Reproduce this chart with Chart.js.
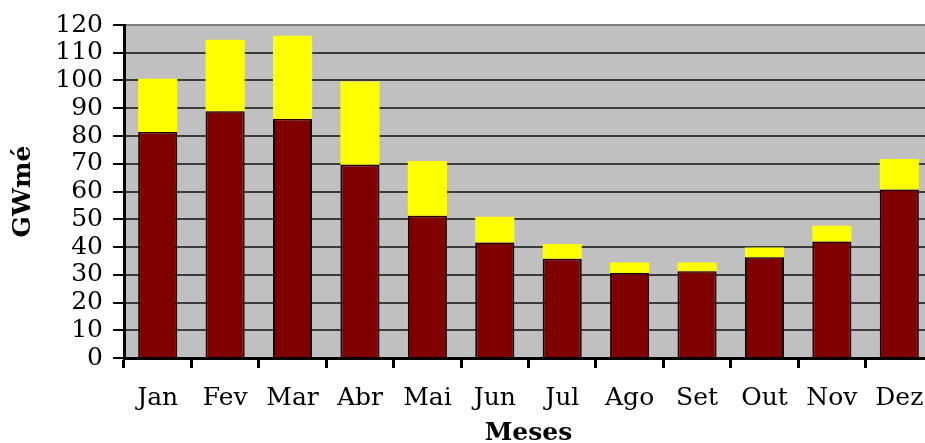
<!DOCTYPE html>
<html>
<head>
<meta charset="utf-8">
<script src="https://cdn.jsdelivr.net/npm/chart.js@4"></script>
<style>
  html, body { margin: 0; padding: 0; background: #fff; overflow: hidden; }
</style>
</head>
<body>
<canvas id="myChart" width="940" height="443"></canvas>
<script>
const months = ['Jan', 'Fev', 'Mar', 'Abr', 'Mai', 'Jun', 'Jul', 'Ago', 'Set', 'Out', 'Nov', 'Dez']

// lower (dark red) part of each bar
const baseValues = [81.4, 88.9, 86.1, 69.6, 51.3, 41.6, 35.8, 30.6, 31.3, 36.3, 42.0, 60.7]
// upper (yellow) part stacked on top
const extraValues = [19.2, 25.8, 30.0, 30.0, 19.7, 9.3, 5.3, 3.8, 3.1, 3.5, 5.7, 11.0]

const yMin = 0
const yMax = 120
const yStep = 10

const serif = 'DejaVu Serif'

const ctx = document.getElementById('myChart').getContext('2d')

// paint the gray plot background
const plotBackground = {
    id: 'plotBackground',
    beforeDraw(chart) {
        const { ctx, chartArea } = chart
        ctx.save()
        ctx.fillStyle = '#c0c0c0'
        ctx.fillRect(chartArea.left, chartArea.top, chartArea.right - chartArea.left, chartArea.bottom - chartArea.top)
        ctx.restore()
    }
}

const chart = new Chart(ctx, {
    type: 'bar',
    data: {
        labels: months,
        datasets: [
            {
                label: 'base',
                data: baseValues,
                backgroundColor: '#800000',
                borderColor: '#1a0000',
                borderWidth: { top: 1.5, left: 2, right: 2, bottom: 0 },
                borderSkipped: false
            },
            {
                label: 'extra',
                data: extraValues,
                backgroundColor: '#ffff00',
                borderWidth: 0
            }
        ]
    },
    options: {
        responsive: false,
        animation: false,
        devicePixelRatio: 1,
        layout: { padding: { top: 23, right: 7, left: 0, bottom: 0 } },
        plugins: {
            legend: { display: false },
            tooltip: { enabled: false }
        },
        datasets: {
            bar: { categoryPercentage: 1.0, barPercentage: 0.58 }
        },
        scales: {
            x: {
                stacked: true,
                offset: true,
                grid: {
                    offset: true,
                    drawOnChartArea: false,
                    drawTicks: true,
                    tickLength: 10,
                    tickWidth: 3,
                    tickColor: '#000'
                },
                border: { color: '#000', width: 3 },
                ticks: {
                    color: '#000',
                    font: { family: serif, size: 25 },
                    padding: 15,
                    maxRotation: 0,
                    autoSkip: false
                },
                title: {
                    display: true,
                    text: 'Meses',
                    color: '#000',
                    font: { family: serif, size: 25, weight: 'bold', lineHeight: 0.75 },
                    padding: 0
                },
                afterFit(scale) { scale.height = 85 }
            },
            y: {
                stacked: true,
                min: yMin,
                max: yMax,
                grid: {
                    color: (c) => (c.tick && c.tick.value === yMax ? '#808080' : '#3c3c3c'),
                    lineWidth: 2,
                    tickLength: 11,
                    tickWidth: 2,
                    tickColor: '#000'
                },
                border: { color: '#000', width: 3 },
                ticks: {
                    stepSize: yStep,
                    autoSkip: false,
                    color: '#000',
                    font: { family: serif, size: 25 },
                    padding: 10
                },
                title: {
                    display: true,
                    text: 'GWmé',
                    color: '#000',
                    font: { family: serif, size: 25, weight: 'bold', lineHeight: 1.2 },
                    padding: { top: 8, bottom: 0 }
                },
                afterFit(scale) { scale.width = 124 }
            }
        }
    },
    plugins: [plotBackground]
})
</script>
</body>
</html>
